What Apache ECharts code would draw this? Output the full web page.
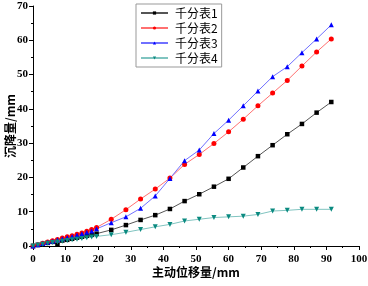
<!DOCTYPE html>
<html>
<head>
<meta charset="utf-8">
<script src="https://cdn.jsdelivr.net/npm/echarts@6/dist/echarts.min.js"></script>
<style>
    html, body {margin: 0; padding: 0; background: #fff;}
    #main {width: 368px; height: 286px;}
</style>
</head>
<body>
<div id="main"></div>
<script>
var xValues = [0, 1.5, 3, 4.5, 6, 7.5, 9, 10.5, 12, 13.5, 15, 16.5, 18, 19.5,
    24, 28.5, 33, 37.5, 42, 46.5, 51, 55.5, 60, 64.5, 69, 73.5, 78, 82.5, 87, 91.5]
var gauge1 = [0, 0.3, 0.6, 0.9, 1.2, 0.4, 1.6, 1.8, 2.1, 2.4, 2.7, 3.0, 3.3, 3.6,
    4.7, 6.1, 7.6, 9.0, 10.8, 13.1, 15.1, 17.3, 19.6, 22.9, 26.2, 29.4, 32.6, 35.6, 38.9, 42.0]
var gauge2 = [0, 0.4, 0.8, 1.2, 1.5, 1.9, 2.3, 2.7, 3.0, 3.4, 3.8, 4.3, 4.8, 5.4,
    7.8, 10.6, 13.7, 16.6, 19.8, 23.8, 26.7, 29.9, 33.3, 37.0, 40.9, 44.6, 48.3, 52.5, 56.6, 60.4]
var gauge3 = [0, 0.4, 0.7, 1.1, 1.4, 1.8, 2.1, 2.5, 2.8, 3.2, 3.6, 4.0, 4.4, 5.0,
    6.8, 8.5, 11.0, 14.6, 19.7, 24.9, 28.0, 32.8, 36.7, 40.9, 45.2, 49.4, 52.3, 56.4, 60.4, 64.5]
var gauge4 = [0, 0.3, 0.5, 0.8, 1.0, 1.2, 1.4, 1.6, 1.8, 2.0, 2.2, 2.4, 2.6, 2.8,
    3.3, 4.0, 4.8, 5.6, 6.3, 7.3, 7.8, 8.3, 8.5, 8.7, 9.2, 10.2, 10.4, 10.7, 10.7, 10.7]
var names = ['千分表1', '千分表2', '千分表3', '千分表4']

function pairs(ys) {
    return xValues.map(function (x, i) { return [x, ys[i]] })
}

var chart = echarts.init(document.getElementById('main'))
var tickFont = {
    color: '#000',
    fontFamily: 'Liberation Serif',
    fontWeight: 'bold',
    fontSize: 11
}

function makeSeries(name, ys, lineColor, dotColor, symbol, rotate) {
    return {
        name: name,
        type: 'line',
        data: pairs(ys),
        symbol: symbol,
        symbolSize: symbol == 'rect' ? 4.5 : 5,
        symbolRotate: rotate || 0,
        lineStyle: {color: lineColor, width: 1},
        itemStyle: {color: dotColor},
        animation: false
    }
}

var option = {
    grid: {left: 33, right: 9, top: 6, bottom: 40, outerBoundsMode: 'none', containLabel: false},
    legend: {
        orient: 'vertical',
        left: 136,
        top: 4,
        padding: [3, 4, 3, 4],
        itemGap: 3,
        itemWidth: 27,
        itemHeight: 4,
        borderColor: '#999',
        borderWidth: 1,
        borderRadius: 0,
        textStyle: {fontFamily: 'Noto Sans CJK SC', fontSize: 12, color: '#000', padding: [0, 0, 0, 2]},
        data: names
    },
    xAxis: {
        type: 'value',
        min: 0,
        max: 100,
        interval: 10,
        name: '主动位移量/mm',
        nameLocation: 'middle',
        nameGap: 20,
        nameMoveOverlap: false,
        nameTextStyle: {fontFamily: 'Noto Sans CJK SC', fontWeight: 'bold', fontSize: 12, color: '#000'},
        axisLine: {lineStyle: {color: '#000', width: 1}},
        axisTick: {show: true, length: 4, inside: false, lineStyle: {color: '#000'}},
        minorTick: {show: true, splitNumber: 2, length: 2, lineStyle: {color: '#000'}},
        splitLine: {show: false},
        axisLabel: tickFont
    },
    yAxis: {
        type: 'value',
        min: 0,
        max: 70,
        interval: 10,
        name: '沉降量/mm',
        nameLocation: 'middle',
        nameGap: 17,
        nameMoveOverlap: false,
        nameTextStyle: {fontFamily: 'Noto Sans CJK SC', fontWeight: 'bold', fontSize: 12, color: '#000'},
        axisLine: {show: true, lineStyle: {color: '#000', width: 1}},
        axisTick: {show: true, length: 4, lineStyle: {color: '#000'}},
        minorTick: {show: true, splitNumber: 2, length: 2, lineStyle: {color: '#000'}},
        splitLine: {show: false},
        axisLabel: Object.assign({margin: 5}, tickFont)
    },
    series: [
        makeSeries(names[0], gauge1, '#555555', '#000000', 'rect'),
        makeSeries(names[1], gauge2, '#ff7070', '#ff0000', 'circle'),
        makeSeries(names[2], gauge3, '#7070ff', '#0000ff', 'triangle'),
        makeSeries(names[3], gauge4, '#80c4c0', '#0a8a80', 'triangle', 180)
    ]
}
chart.setOption(option)
</script>
</body>
</html>
